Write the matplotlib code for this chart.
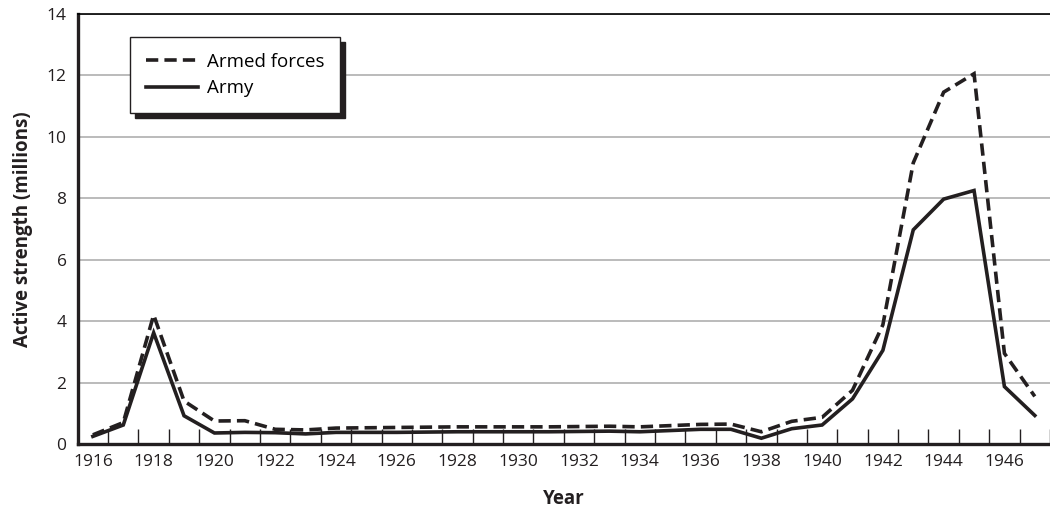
import matplotlib
matplotlib.use("Agg")
import matplotlib.pyplot as plt
import numpy as np
from matplotlib.ticker import MultipleLocator

plt.rcParams['font.family'] = ['Open Sans', 'DejaVu Sans']

# data (millions)
years = list(range(1916, 1948))
armed_forces = [0.30, 0.70, 4.20, 1.40, 0.75, 0.76, 0.48, 0.46, 0.52, 0.53, 0.54, 0.55, 0.56, 0.56,
                0.56, 0.56, 0.57, 0.58, 0.56, 0.60, 0.64, 0.65, 0.40, 0.74, 0.87, 1.75, 3.88, 9.15,
                11.45, 12.05, 2.95, 1.55]
army = [0.25, 0.62, 3.62, 0.92, 0.36, 0.38, 0.37, 0.33, 0.38, 0.38, 0.38, 0.39, 0.40, 0.40,
        0.40, 0.40, 0.41, 0.42, 0.40, 0.44, 0.48, 0.48, 0.19, 0.50, 0.62, 1.47, 3.05, 6.97,
        7.97, 8.25, 1.87, 0.93]
tick_years = list(range(1916, 1947, 2))
y_ticks = list(range(0, 15, 2))

fig, ax = plt.subplots(figsize=(10.5, 5.11), dpi=100)
fig.subplots_adjust(left=0.074, right=1.0, top=0.973, bottom=0.131)

ax.plot(years, armed_forces, color='#231f20', lw=2.6, linestyle=(0, (3.4, 1.7)),
        label='Armed forces', solid_joinstyle='miter', dash_joinstyle='miter')
ax.plot(years, army, color='#231f20', lw=2.6, label='Army', solid_joinstyle='miter')

ax.set_xlim(1915.5, 1947.5)
ax.set_ylim(0, 14)
ax.set_xticks(tick_years)
ax.set_xticklabels([str(y) for y in tick_years])
ax.xaxis.set_minor_locator(MultipleLocator(1, offset=0.5))
ax.tick_params(axis='x', which='major', length=0, pad=7, labelsize=12.5, colors='#231f20')
ax.tick_params(axis='x', which='minor', direction='in', length=11, width=1, color='#231f20')
ax.set_yticks(y_ticks)
ax.tick_params(axis='y', length=0, pad=8, labelsize=12.5, colors='#231f20')

ax.grid(axis='y', color='#b5b5b5', lw=1.3)
ax.set_axisbelow(True)

for s in ['left', 'bottom']:
    ax.spines[s].set_linewidth(2.4)
    ax.spines[s].set_color('#231f20')
ax.spines['top'].set_linewidth(1.2)
ax.spines['right'].set_visible(False)

ax.set_xlabel('Year', fontsize=13.5, fontweight='bold', labelpad=14, color='#231f20')
ax.set_ylabel('Active strength (millions)', fontsize=13.5, fontweight='bold', labelpad=10,
              color='#231f20')

leg = ax.legend(loc='upper left', bbox_to_anchor=(0.0535, 0.946), borderaxespad=0,
                fontsize=13.5, handlelength=2.8, handletextpad=0.45, labelspacing=0.45,
                borderpad=0.85, fancybox=False, framealpha=1,
                shadow={'color': '#231f20', 'alpha': 1, 'ox': 3.5, 'oy': -3.5})
leg.get_frame().set_edgecolor('#231f20')
leg.get_frame().set_linewidth(1.0)

fig.savefig('out.png', dpi=100)
